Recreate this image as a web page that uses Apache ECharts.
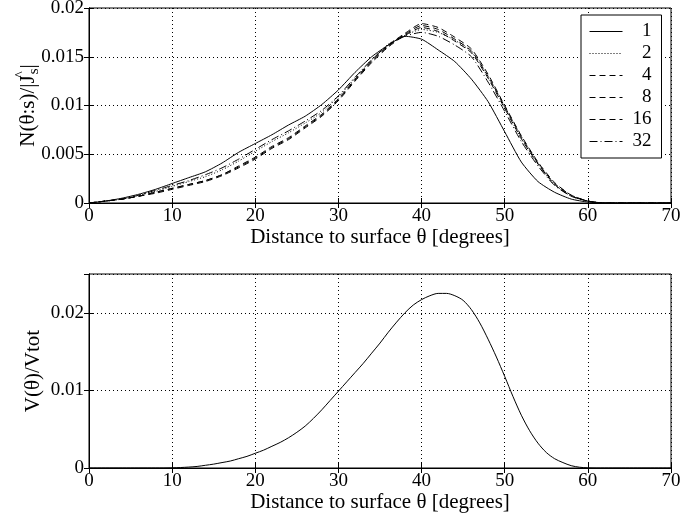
<!DOCTYPE html>
<html>
<head>
<meta charset="utf-8">
<script src="https://cdn.jsdelivr.net/npm/echarts@6/dist/echarts.min.js"></script>
<style>html,body{margin:0;padding:0;background:#fff;}#c{width:683px;height:518px;}</style>
</head>
<body>
<div id="c"></div>
<script>
// ---- data ----
const theta = [0,2,4,6,8,10,12,14,16,18,20,22,24,26,28,30,32,34,36,38,40,42,44,46,48,50,52,54,56,58,60,62,64,66,68,70];
const seriesNames = ['1','2','4','8','16','32'];
const n1  = [0,0.0002,0.0005,0.0009,0.0014,0.0020,0.0026,0.0032,0.0041,0.0052,0.0061,0.0070,0.0080,0.0089,0.0101,0.0116,0.0134,0.0150,0.0162,0.0171,0.0168,0.0157,0.0145,0.0127,0.0104,0.0073,0.0042,0.0022,0.0011,0.0004,0.0001,0,0,0,0,0];
const n2  = [0,0.0002,0.0004,0.0008,0.0012,0.0017,0.0022,0.0027,0.0034,0.0043,0.0053,0.0063,0.0072,0.0082,0.0093,0.0109,0.0128,0.0147,0.0163,0.0172,0.0178,0.0175,0.0167,0.0155,0.0129,0.0098,0.0066,0.0040,0.0019,0.0007,0.0002,0,0,0,0,0];
const n4  = [0,0.0002,0.0004,0.0007,0.0011,0.0015,0.0019,0.0023,0.0029,0.0038,0.0047,0.0058,0.0067,0.0079,0.0091,0.0107,0.0127,0.0146,0.0162,0.0174,0.0184,0.0180,0.0170,0.0158,0.0132,0.0100,0.0069,0.0042,0.0021,0.0008,0.0002,0,0,0,0,0];
const n8  = [0,0.0002,0.0004,0.0007,0.0011,0.0015,0.0019,0.0023,0.0029,0.0037,0.0046,0.0057,0.0066,0.0078,0.0090,0.0106,0.0126,0.0145,0.0161,0.0173,0.0182,0.0178,0.0168,0.0156,0.0130,0.0099,0.0068,0.0041,0.0020,0.0008,0.0002,0,0,0,0,0];
const n16 = [0,0.0002,0.0004,0.0007,0.0010,0.0014,0.0018,0.0022,0.0028,0.0036,0.0045,0.0056,0.0065,0.0077,0.0089,0.0105,0.0125,0.0144,0.0160,0.0172,0.0180,0.0176,0.0166,0.0154,0.0128,0.0097,0.0066,0.0040,0.0019,0.0007,0.0002,0,0,0,0,0];
const n32 = [0,0.0002,0.0004,0.0008,0.0013,0.0018,0.0023,0.0029,0.0036,0.0045,0.0055,0.0065,0.0074,0.0084,0.0095,0.0110,0.0129,0.0147,0.0162,0.0171,0.0175,0.0171,0.0162,0.0150,0.0124,0.0094,0.0063,0.0038,0.0018,0.0007,0.0002,0,0,0,0,0];
const thetaV = [0,1,2,3,4,5,6,7,8,9,10,11,12,13,14,15,16,17,18,19,20,21,22,23,24,25,26,27,28,29,30,31,32,33,34,35,36,37,38,39,40,41,42,43,44,45,46,47,48,49,50,51,52,53,54,55,56,57,58,59,60,61,62,63,64,65,66,67,68,69,70];
const vRatio = [0,0,0,0,0,0,0,0,0,0,0.00002,0.00006,0.00012,0.0002,0.00035,0.0005,0.0007,0.0009,0.0012,0.0015,0.0019,0.0023,0.0028,0.0033,0.0039,0.0046,0.0054,0.0064,0.0075,0.0087,0.0099,0.0111,0.0123,0.0135,0.0148,0.0161,0.0175,0.0188,0.0200,0.0210,0.0217,0.0222,0.0225,0.0225,0.0222,0.0216,0.0204,0.0187,0.0166,0.0143,0.0118,0.0092,0.0068,0.0048,0.0032,0.0020,0.0012,0.0007,0.0003,0.0001,0.00002,0,0,0,0,0,0,0,0,0,0];
const xTicks = [0,10,20,30,40,50,60,70];

// ---- chart ----
const FONT = 'Liberation Serif';
const TICK_FS = 19, NAME_FS = 21;
const topSeries = [n1,n2,n4,n8,n16,n32];
const dashes = ['solid',[1,2],[6,4],[6,4],[6,4],[8,3,1,3]];
const pairs = (xs, arr) => xs.map((t,i)=>[t,arr[i]]);

const chart = echarts.init(document.getElementById('c'), null, {renderer:'canvas'});
const gridLine = {show:true, lineStyle:{color:'#000', type:[1,3], width:1}};
const tick = {show:true, inside:true, length:5, lineStyle:{color:'#000'}};
const lbl = {color:'#000', fontFamily:FONT, fontSize:TICK_FS};

function xAx(gi){
  return {type:'value', gridIndex:gi, min:xTicks[0], max:xTicks[xTicks.length-1], interval:10,
    axisLine:{show:true, lineStyle:{color:'#000'}}, axisTick:tick,
    axisLabel:Object.assign({margin:4}, lbl),
    splitLine:gridLine,
    name:'Distance to surface θ [degrees]', nameLocation:'middle', nameGap:24,
    nameTextStyle:{color:'#000', fontFamily:FONT, fontSize:NAME_FS}};
}
function xAxTop(gi){
  return {type:'value', gridIndex:gi, position:'top', min:0, max:70, interval:10,
    axisLine:{show:true, lineStyle:{color:'#000'}}, axisTick:tick, axisLabel:{show:false}, splitLine:{show:false}};
}

const option = {
  backgroundColor:'#fff',
  animation:false,
  grid:[
    {left:89, right:12, top:8, height:195, show:true, borderColor:'#000', borderWidth:1, outerBoundsMode:'none', containLabel:false},
    {left:89, right:12, top:274, height:194, show:true, borderColor:'#000', borderWidth:1, outerBoundsMode:'none', containLabel:false}
  ],
  xAxis:[xAx(0), xAxTop(0), xAx(1), xAxTop(1)],
  yAxis:[
    {type:'value', gridIndex:0, min:0, max:0.02, interval:0.005,
     axisLine:{show:true, lineStyle:{color:'#000'}}, axisTick:tick,
     axisLabel:Object.assign({margin:5}, lbl), splitLine:gridLine,
     name:'N(θ:s)/|J{h|^}{s|s}|', nameLocation:'middle', nameGap:47, nameRotate:90, nameMoveOverlap:false,
     nameTextStyle:{color:'#000', fontFamily:FONT, fontSize:NAME_FS, lineHeight:28,
       rich:{h:{fontFamily:FONT, fontSize:15, verticalAlign:'top', width:1, color:'#000'},
             s:{fontFamily:FONT, fontSize:15, verticalAlign:'bottom', color:'#000'}}}},
    {type:'value', gridIndex:0, position:'right', min:0, max:0.02, interval:0.005,
     axisLine:{show:true, lineStyle:{color:'#000'}}, axisTick:tick, axisLabel:{show:false}, splitLine:{show:false}},
    {type:'value', gridIndex:1, min:0, max:0.025, interval:0.01,
     axisLine:{show:true, lineStyle:{color:'#000'}}, axisTick:tick,
     axisLabel:Object.assign({margin:5, showMaxLabel:false}, lbl), splitLine:gridLine,
     name:'V(θ)/Vtot', nameLocation:'middle', nameGap:45, nameRotate:90, nameMoveOverlap:false,
     nameTextStyle:{color:'#000', fontFamily:FONT, fontSize:NAME_FS}},
    {type:'value', gridIndex:1, position:'right', min:0, max:0.025, interval:0.01,
     axisLine:{show:true, lineStyle:{color:'#000'}}, axisTick:tick, axisLabel:{show:false}, splitLine:{show:false}}
  ],
  legend:{
    data:seriesNames, orient:'vertical', left:581, top:15,
    backgroundColor:'#fff', borderColor:'#000', borderWidth:1,
    padding:[7,10,7,8], itemWidth:33, itemHeight:14, itemGap:3,
    itemStyle:{opacity:0, color:'rgba(0,0,0,0)', borderColor:'rgba(0,0,0,0)'},
    lineStyle:{width:1},
    formatter: name => '{r|' + name + '}',
    textStyle:{color:'#000', fontFamily:FONT, fontSize:TICK_FS,
      rich:{r:{width:24, align:'right', fontFamily:FONT, fontSize:TICK_FS, color:'#000'}}}
  },
  series: topSeries.map((arr,i)=>({
    name:seriesNames[i], type:'line', xAxisIndex:0, yAxisIndex:0,
    data:pairs(theta, arr), symbol:'none', smooth:0.2,
    lineStyle:{color:'#000', width:1, type:dashes[i]},
    itemStyle:{color:'#000'}
  })).concat([{
    name:'V', type:'line', xAxisIndex:2, yAxisIndex:2,
    data:pairs(thetaV, vRatio), symbol:'none', smooth:0.3,
    lineStyle:{color:'#000', width:1}, itemStyle:{color:'#000'}
  }])
};
chart.setOption(option);
</script>
</body>
</html>
